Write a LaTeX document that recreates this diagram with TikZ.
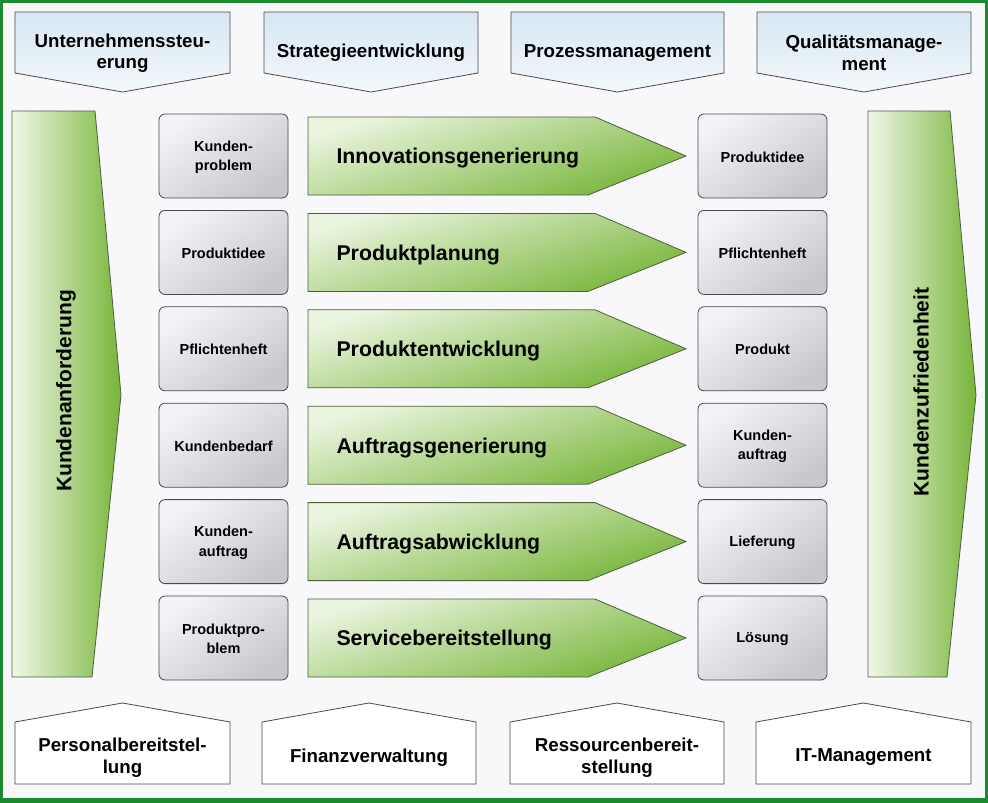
\documentclass[tikz,border=0pt]{standalone}
\usepackage{fontspec}
\setmainfont{Liberation Sans}
\definecolor{frame}{HTML}{1C8A30}
\definecolor{bg}{HTML}{F8F7FA}
\definecolor{edge}{HTML}{4A4A4A}
\definecolor{gedge}{HTML}{4E5E3E}
\definecolor{glight}{HTML}{F0F7E8}
\definecolor{gtop}{HTML}{EAF4DE}
\definecolor{gmid}{HTML}{AFD585}
\definecolor{gdark}{HTML}{78B53A}
\definecolor{blight}{HTML}{D6E7F3}
\definecolor{bwhite}{HTML}{F4F8FB}
\definecolor{gylight}{HTML}{F3F2F6}
\definecolor{gydark}{HTML}{C9C7CE}
\tikzset{
  toppent/.style={draw=edge, line width=0.8pt, top color=blight, bottom color=bwhite},
  botpent/.style={draw=edge, line width=0.8pt, fill=white},
  graybox/.style={draw=edge, line width=0.8pt, rounded corners=6pt, top color=gylight, bottom color=gydark, shading angle=35},
  greenarrow/.style={draw=gedge, line width=0.8pt, top color=gtop, middle color=gmid, bottom color=gdark, shading angle=18},
  bigarrow/.style={draw=gedge, line width=0.8pt, left color=glight, right color=gdark},
  pentlabel/.style={font=\bfseries\fontsize{18.7}{21.5}\selectfont, align=center},
  boxlabel/.style={font=\bfseries\fontsize{14.5}{19.5}\selectfont, align=center},
  arrowlabel/.style={font=\bfseries\fontsize{21.3}{24}\selectfont, anchor=west},
  biglabel/.style={font=\bfseries\fontsize{21}{24}\selectfont, rotate=90}
}
\begin{document}
\begin{tikzpicture}[x=1pt,y=-1pt]
\useasboundingbox (0,0) rectangle (988,803);
\fill[frame] (0,0) rectangle (988,803);
\fill[bg] (3,3) rectangle (985,798);
% top pentagons
\foreach \xa/\xb/\n/\t in {15/230/T1/{Unternehmenssteu-\\erung},264/478/T2/{Strategieentwicklung},511/724/T3/{Prozessmanagement},757/971/T4/{Qualitätsmanage-\\ment}}{
  \path[toppent] (\xa,12) -- (\xb,12) -- (\xb,73) -- ({(\xa+\xb)/2},92) -- (\xa,73) -- cycle;
  \node[pentlabel] (\n) at ({(\xa+\xb)/2},53) {\t};
}
% bottom pentagons
\foreach \xa/\xb/\n/\t in {15/230/B1/{Personalbereitstel-\\lung},262/476/B2/{Finanzverwaltung},510/724/B3/{Ressourcenbereit-\\stellung},756/971/B4/{IT-Management}}{
  \path[botpent] (\xa,722) -- ({(\xa+\xb)/2},703) -- (\xb,722) -- (\xb,784) -- (\xa,784) -- cycle;
  \node[pentlabel] (\n) at ({(\xa+\xb)/2},757.5) {\t};
}
% big arrows
\path[bigarrow] (12,111) -- (95,111) -- (121,395) -- (92,677) -- (12,677) -- cycle;
\node[biglabel] (KA) at (66,391) {Kundenanforderung};
\path[bigarrow] (868,111) -- (950,111) -- (976,395) -- (947,677) -- (868,677) -- cycle;
\node[biglabel] (KZ) at (921,392) {Kundenzufriedenheit};
% rows
\foreach \i/\l/\a/\r in {0/{Kunden-\\problem}/Innovationsgenerierung/Produktidee,
  1/Produktidee/Produktplanung/Pflichtenheft,
  2/Pflichtenheft/Produktentwicklung/Produkt,
  3/Kundenbedarf/Auftragsgenerierung/{Kunden-\\auftrag},
  4/{Kunden-\\auftrag}/Auftragsabwicklung/Lieferung,
  5/{Produktpro-\\blem}/Servicebereitstellung/Lösung}{
  \pgfmathsetmacro{\yt}{114+96.4*\i}
  \path[graybox] (159,\yt) rectangle (288,\yt+84);
  \node[boxlabel] (L\i) at (223.5,\yt+43) {\l};
  \path[greenarrow] (308,\yt+3) -- (595,\yt+3) -- (686,\yt+42) -- (588,\yt+81) -- (308,\yt+81) -- cycle;
  \node[arrowlabel] (A\i) at (333,\yt+44.5) {\a};
  \path[graybox] (698,\yt) rectangle (827,\yt+84);
  \node[boxlabel] (R\i) at (762.5,\yt+43) {\r};
}
\end{tikzpicture}
\end{document}
